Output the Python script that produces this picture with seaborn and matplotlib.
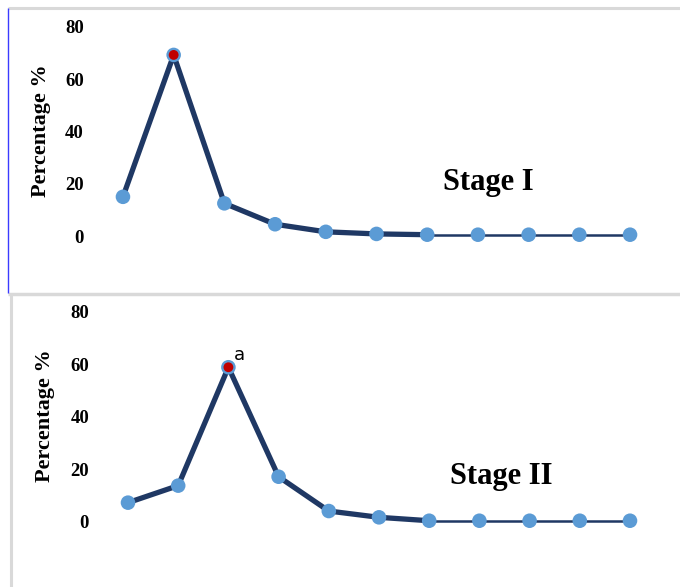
import numpy as np
import pandas as pd
import matplotlib
matplotlib.use("Agg")
import matplotlib.pyplot as plt
from matplotlib.lines import Line2D
import seaborn as sns

# Percentage per class, eleven classes, two stages
classes = list(range(1, 12))
stage1 = [15.0, 69.3, 12.5, 4.5, 1.6, 0.8, 0.5, 0.5, 0.5, 0.5, 0.5]
stage2 = [7.2, 13.7, 58.9, 17.1, 4.0, 1.6, 0.3, 0.3, 0.3, 0.3, 0.3]
peak1 = 1
peak2 = 2
y_ticks = [0, 20, 40, 60, 80]
stage_titles = ["Stage I", "Stage II"]

sns.set_style("white")
plt.rcParams["font.family"] = ["Liberation Serif", "DejaVu Serif"]
plt.rcParams["text.color"] = "black"
plt.rcParams["axes.labelcolor"] = "black"
plt.rcParams["ytick.color"] = "black"

W, H = 680, 587
fig = plt.figure(figsize=(W / 100, H / 100), dpi=100)

LINE = "#1f3864"
MARK = "#5b9bd5"
PEAK = "#c00000"


def px_rect(left, right, top, bottom):
    return [left / W, 1 - bottom / H, (right - left) / W, (bottom - top) / H]


def draw_panel(ax, values, peak, title, title_xy, label_x, label_y, note=None):
    df = pd.DataFrame({"cls": np.arange(len(values)), "pct": values})
    head = df[df.cls <= 6]
    tail = df[df.cls >= 6]
    sns.lineplot(data=head, x="cls", y="pct", ax=ax, color=LINE, lw=3.8,
                 solid_capstyle="round", solid_joinstyle="round", zorder=2)
    sns.lineplot(data=tail, x="cls", y="pct", ax=ax, color=LINE, lw=1.8, zorder=2)
    sns.scatterplot(data=df, x="cls", y="pct", ax=ax, color=MARK, s=110,
                    edgecolor="none", zorder=3, clip_on=False)
    pk = df[df.cls == peak]
    sns.scatterplot(data=pk, x="cls", y="pct", ax=ax, color=PEAK, s=50,
                    edgecolor="none", zorder=4, clip_on=False)
    ax.set_xlim(-0.5, 10.5)
    ax.set_ylim(-15, 85)
    ax.set_yticks(y_ticks)
    ax.set_xticks([])
    ax.set_xlabel("")
    ax.tick_params(axis="y", length=0, pad=10, labelsize=13.5)
    for t in ax.get_yticklabels():
        t.set_fontweight("bold")
    ax.set_ylabel("Percentage %", fontsize=16, fontweight="bold")
    ax.yaxis.set_label_coords(label_x, label_y)
    for s in ax.spines.values():
        s.set_visible(False)
    ax.patch.set_alpha(0)
    ax.text(*title_xy, title, transform=ax.transAxes, fontsize=22,
            fontweight="bold", ha="center", va="baseline")
    if note is not None:
        ax.annotate(note, (peak, values[peak]), xytext=(4, 2),
                    textcoords="offset points", fontsize=13,
                    family="DejaVu Sans", ha="left", va="bottom")


top1, bot1 = 13.9, 275.2
top2, bot2 = 298.9, 560.8
ax1 = fig.add_axes(px_rect(97.6, 655.4, top1, bot1))
ax2 = fig.add_axes(px_rect(102.9, 655.1, top2, bot2))

draw_panel(ax1, stage1, peak1, stage_titles[0],
           ((488 - 97.6) / 557.8, 1 - (190 - top1) / (bot1 - top1)), -0.084,
           1 - (131 - top1) / (bot1 - top1))
draw_panel(ax2, stage2, peak2, stage_titles[1],
           ((501 - 102.9) / 552.2, 1 - (484 - top2) / (bot2 - top2)), -0.086,
           1 - (416 - top2) / (bot2 - top2), note="a")

# Panel frames
def fig_line(x0, y0, x1, y1, color, lw):
    fig.add_artist(Line2D([x0 / W, x1 / W], [1 - y0 / H, 1 - y1 / H],
                          transform=fig.transFigure, color=color, lw=lw,
                          solid_capstyle="butt"))

fig_line(8, 8, 680, 8, "#d9d9d9", 2.2)
fig_line(8, 293.5, 680, 293.5, "#d9d9d9", 2.5)
fig_line(8, 8, 8, 293, "#3b3bff", 1.0)
fig_line(10.5, 295, 10.5, 587, "#d9d9d9", 2.2)

fig.savefig("out.png", dpi=100)
